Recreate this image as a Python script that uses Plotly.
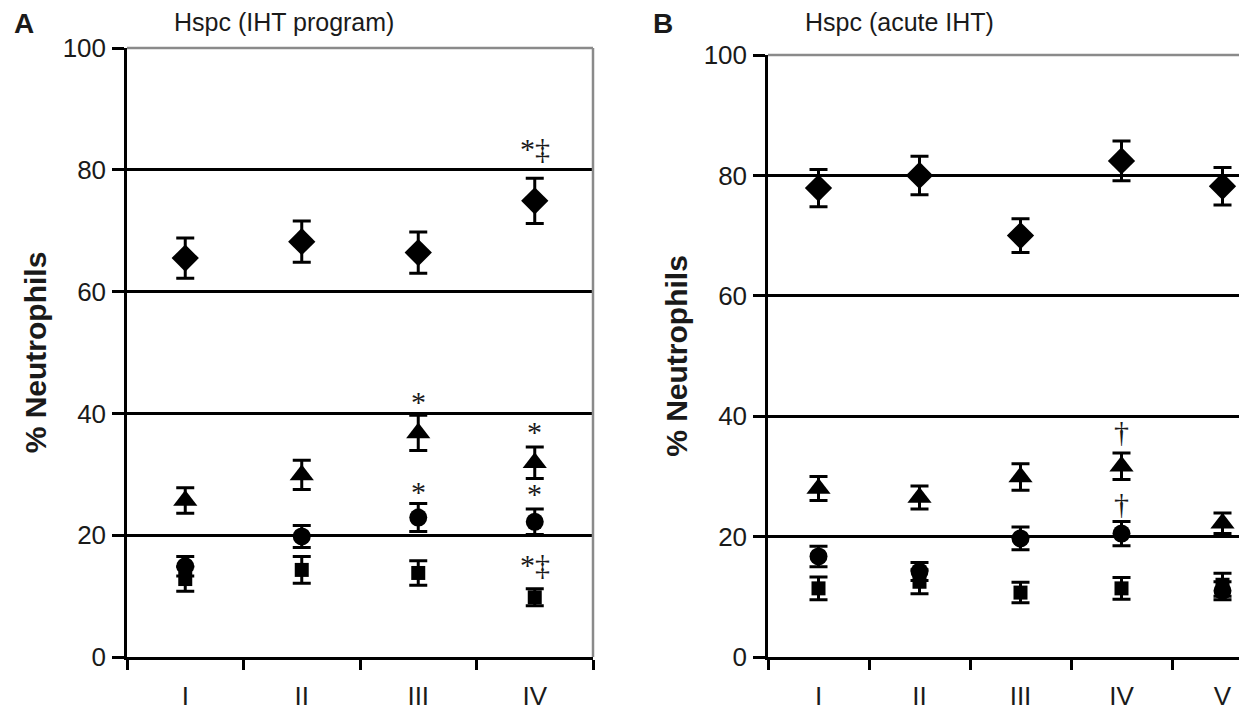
import plotly.graph_objects as go

# ---------------- data ----------------
cats_A = ["I", "II", "III", "IV"]
cats_B = ["I", "II", "III", "IV", "V"]

A_diamond = [65.5, 68.2, 66.4, 74.9]
A_diamond_err = [3.3, 3.4, 3.4, 3.7]
A_triangle = [25.7, 29.9, 36.8, 31.9]
A_triangle_err = [2.1, 2.4, 2.9, 2.6]
A_circle = [14.9, 19.8, 22.9, 22.2]
A_circle_err = [1.6, 1.8, 2.3, 2.1]
A_square = [12.8, 14.3, 13.8, 9.8]
A_square_err = [2.0, 2.2, 2.0, 1.4]

B_diamond = [77.9, 80.0, 70.0, 82.4, 78.2]
B_diamond_err = [3.1, 3.2, 2.8, 3.3, 3.1]
B_triangle = [28.0, 26.5, 29.9, 31.7, 22.2]
B_triangle_err = [2.0, 1.9, 2.2, 2.2, 1.7]
B_circle = [16.7, 14.2, 19.7, 20.5, 11.0]
B_circle_err = [1.7, 1.5, 1.9, 2.0, 1.5]
B_square = [11.4, 12.5, 10.7, 11.4, 12.0]
B_square_err = [1.9, 2.0, 1.7, 1.8, 1.9]

y_ticks = [0, 20, 40, 60, 80, 100]

# significance marks: category index (1-based), y value, text
sig_A_x = [4, 3, 4, 3, 4, 4]
sig_A_y = [83.5, 42.0, 37.0, 27.2, 26.8, 15.2]
sig_A_t = ["*‡", "*", "*", "*", "*", "*‡"]
sig_B_x = [4, 4]
sig_B_y = [37.4, 25.5]
sig_B_t = ["†", "†"]

# ---------------- figure ----------------
W, H = 1239, 710
FONT = "Liberation Sans, Arial, Helvetica, sans-serif"
TXT = "#1a1a1a"

fig = go.Figure()

symbols = [("diamond", 21), ("triangle-up", 21), ("circle", 18), ("square", 14)]

def add_series(xs, ys, errs, sym, size, xa, ya):
    fig.add_trace(go.Scatter(
        x=xs, y=ys, mode="markers", xaxis=xa, yaxis=ya,
        marker=dict(symbol=sym, size=size, color="black", line=dict(width=0)),
        error_y=dict(type="data", array=errs, color="black", thickness=3, width=9),
        showlegend=False, cliponaxis=True,
    ))

xA = list(range(1, len(cats_A) + 1))
xB = list(range(1, len(cats_B) + 1))

for (sym, sz), ys, es in zip(symbols,
                             [A_diamond, A_triangle, A_circle, A_square],
                             [A_diamond_err, A_triangle_err, A_circle_err, A_square_err]):
    add_series(xA, ys, es, sym, sz, "x", "y")
for (sym, sz), ys, es in zip(symbols,
                             [B_diamond, B_triangle, B_circle, B_square],
                             [B_diamond_err, B_triangle_err, B_circle_err, B_square_err]):
    add_series(xB, ys, es, sym, sz, "x2", "y2")

def xaxis_cfg(domain, rng, cats):
    n = len(cats)
    return dict(
        domain=domain, range=rng, tickmode="array",
        tickvals=list(range(1, n + 1)), ticktext=cats,
        ticks="outside", ticklen=10, tickcolor="rgba(0,0,0,0)",
        ticklabelstandoff=4, automargin=False,
        minor=dict(tickmode="array", tickvals=[i + 0.5 for i in range(0, n + 1)],
                   ticks="outside", ticklen=10, tickwidth=2.5, tickcolor="black",
                   showgrid=False),
        showline=True, linecolor="black", linewidth=2.5,
        showgrid=False, zeroline=False, fixedrange=True,
        tickfont=dict(family=FONT, size=26, color=TXT),
    )

def yaxis_cfg(domain, anchor):
    return dict(
        domain=domain, range=[0, 100], anchor=anchor,
        tickmode="array", tickvals=y_ticks,
        ticks="outside", ticklen=12, tickwidth=2.5, tickcolor="black",
        ticklabelstandoff=1, automargin=False,
        showline=True, linecolor="black", linewidth=2.5,
        showgrid=True, gridcolor="black", gridwidth=2.5,
        zeroline=False, fixedrange=True,
        tickfont=dict(family=FONT, size=26, color=TXT),
        title=dict(text="<b>% Neutrophils</b>", standoff=8,
                   font=dict(family=FONT, size=30, color=TXT)),
    )

yb = 1 - 657 / H
fig.update_layout(
    width=W, height=H, margin=dict(l=0, r=0, t=0, b=0, autoexpand=False),
    paper_bgcolor="white", plot_bgcolor="white",
    xaxis=dict(**xaxis_cfg([127 / W, 593 / W], [0.5, 4.5], cats_A), anchor="y"),
    yaxis=yaxis_cfg([yb, 1 - 48 / H], "x"),
    xaxis2=dict(**xaxis_cfg([768 / W, 1.0], [0.5, 0.5 + (W - 768) / 101.0], cats_B), anchor="y2"),
    yaxis2=yaxis_cfg([yb, 1 - 55 / H], "x2"),
)

# grey top/right frame lines
for xr, yr in [("x domain", "y domain"), ("x2 domain", "y2 domain")]:
    fig.add_shape(type="line", xref=xr, yref=yr, x0=0, x1=1, y0=1, y1=1,
                  line=dict(color="#8a8a8a", width=2.5), layer="above")
fig.add_shape(type="line", xref="x domain", yref="y domain", x0=1, x1=1, y0=0, y1=1,
              line=dict(color="#8a8a8a", width=2.5), layer="above")

# panel letters and titles
fig.add_annotation(text="<b>A</b>", xref="paper", yref="paper", x=12 / W, y=1 - 24 / H,
                   xanchor="left", yanchor="middle", showarrow=False,
                   font=dict(family=FONT, size=28, color=TXT))
fig.add_annotation(text="<b>B</b>", xref="paper", yref="paper", x=651 / W, y=1 - 24 / H,
                   xanchor="left", yanchor="middle", showarrow=False,
                   font=dict(family=FONT, size=28, color=TXT))
fig.add_annotation(text="Hspc (IHT program)", xref="paper", yref="paper", x=172 / W, y=1 - 22 / H,
                   xanchor="left", yanchor="middle", showarrow=False,
                   font=dict(family=FONT, size=25, color=TXT))
fig.add_annotation(text="Hspc (acute IHT)", xref="paper", yref="paper", x=803 / W, y=1 - 22 / H,
                   xanchor="left", yanchor="middle", showarrow=False,
                   font=dict(family=FONT, size=25, color=TXT))

SYMFONT = "Liberation Serif, Times New Roman, serif"
for xv, yv, t in zip(sig_A_x, sig_A_y, sig_A_t):
    fig.add_annotation(text=t, x=xv, y=yv, xref="x", yref="y", showarrow=False,
                       yanchor="middle", font=dict(family=SYMFONT, size=30, color=TXT))
for xv, yv, t in zip(sig_B_x, sig_B_y, sig_B_t):
    fig.add_annotation(text=t, x=xv, y=yv, xref="x2", yref="y2", showarrow=False,
                       yanchor="middle", font=dict(family=SYMFONT, size=30, color=TXT))

fig.write_html("out.html")
